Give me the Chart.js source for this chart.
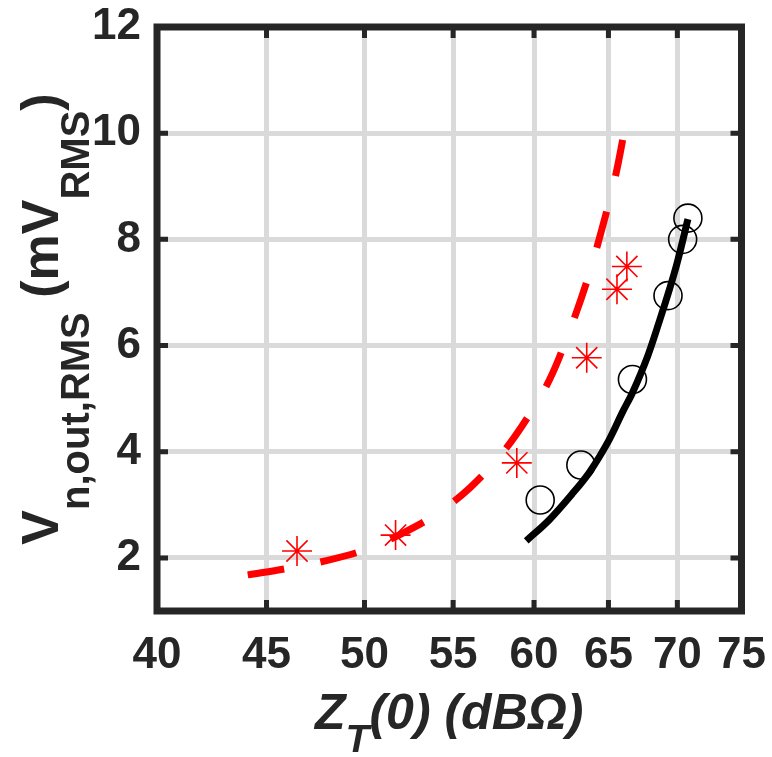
<!DOCTYPE html>
<html>
<head>
<meta charset="utf-8">
<script src="https://cdn.jsdelivr.net/npm/chart.js@4/dist/chart.umd.min.js"></script>
<style>
html,body{margin:0;padding:0;background:#fff;}
#wrap{width:772px;height:757px;position:relative;}
</style>
</head>
<body>
<div id="wrap"><canvas id="c" width="772" height="757"></canvas></div>
<script>
// ---- data ----
const xTicks = [40, 45, 50, 55, 60, 65, 70, 75];
const yTicks = [2, 4, 6, 8, 10, 12];

// red dashed fit curve
const dashX = [44.1, 46.0, 48.0, 50.0, 52.0, 54.0, 56.0, 58.0, 59.6, 61.0, 62.3, 63.5, 64.6, 65.5, 66.2];
const dashY = [1.68, 1.80, 1.95, 2.15, 2.45, 2.82, 3.32, 3.98, 4.65, 5.35, 6.25, 7.20, 8.25, 9.20, 10.15];

// red asterisk measurements
const starX = [46.5, 51.7, 58.9, 63.5, 65.6, 66.3];
const starY = [2.13, 2.43, 3.79, 5.77, 7.06, 7.49];

// black solid fit curve
const solidX = [59.5, 61.0, 62.5, 63.7, 65.0, 66.0, 66.7, 67.8, 68.7, 69.4, 70.0, 70.8];
const solidY = [2.32, 2.72, 3.20, 3.62, 4.20, 4.75, 5.11, 5.80, 6.49, 7.05, 7.57, 8.38];

// black circle measurements
const circX = [60.4, 63.1, 66.7, 69.3, 70.4, 70.8];
const circY = [3.09, 3.75, 5.36, 6.94, 8.00, 8.40];

const pts = (xs, ys) => xs.map((x, i) => ({x: x, y: ys[i]}));

const FONT = "'Liberation Sans', Arial, Helvetica, sans-serif";
const INK = '#262626';

const framePlugin = {
  id: 'frame',
  afterDraw(chart) {
    const ctx = chart.ctx;
    const a = chart.chartArea;
    const xs = chart.scales.x, ys = chart.scales.y;
    ctx.save();
    // inner ticks
    ctx.strokeStyle = INK;
    ctx.lineWidth = 5;
    ctx.lineCap = 'butt';
    const tl = 11;
    xTicks.forEach(v => {
      const px = xs.getPixelForValue(v);
      ctx.beginPath();
      ctx.moveTo(px, a.bottom); ctx.lineTo(px, a.bottom - tl);
      ctx.moveTo(px, a.top); ctx.lineTo(px, a.top + tl);
      ctx.stroke();
    });
    yTicks.forEach(v => {
      const py = ys.getPixelForValue(v);
      ctx.beginPath();
      ctx.moveTo(a.left, py); ctx.lineTo(a.left + tl, py);
      ctx.moveTo(a.right, py); ctx.lineTo(a.right - tl, py);
      ctx.stroke();
    });
    // box
    ctx.lineWidth = 7;
    ctx.lineJoin = 'miter';
    ctx.strokeRect(a.left, a.top, a.right - a.left, a.bottom - a.top);

    // ---- x title: Z_T(0) (dBΩ) ----
    ctx.fillStyle = INK;
    ctx.textBaseline = 'alphabetic';
    ctx.textAlign = 'left';
    const mainF = 'italic bold 50px ' + FONT;
    const subF = 'italic bold 39px ' + FONT;
    const xParts = [
      {t: 'Z', f: mainF, dy: 0},
      {t: 'T', f: subF, dy: 23},
      {t: '(0) (dB\u03A9)', f: mainF, dy: 0}
    ];
    let tw = 0;
    xParts.forEach(p => { ctx.font = p.f; p.w = ctx.measureText(p.t).width; tw += p.w; });
    let cx = (a.left + a.right) / 2 - tw / 2;
    const baseX = 729;
    xParts.forEach(p => { ctx.font = p.f; ctx.fillText(p.t, cx, baseX + p.dy); cx += p.w; });

    // ---- y title: V_{n,out,RMS} (mV_{RMS}) ----
    const yMain = 'bold 52px ' + FONT;
    const ySub = 'bold 40px ' + FONT;
    const yParts = [
      {t: 'V', f: yMain, dy: 0},
      {t: 'n,out,RMS', f: ySub, dy: 31},
      {t: ' (mV', f: yMain, dy: 0},
      {t: 'RMS', f: ySub, dy: 31},
      {t: ')', f: yMain, dy: 0}
    ];
    tw = 0;
    yParts.forEach(p => { ctx.font = p.f; p.w = ctx.measureText(p.t).width; tw += p.w; });
    ctx.translate(58, (a.top + a.bottom) / 2);
    ctx.rotate(-Math.PI / 2);
    cx = -tw / 2;
    yParts.forEach(p => { ctx.font = p.f; ctx.fillText(p.t, cx, p.dy); cx += p.w; });
    ctx.restore();
  }
};

const zeroPad = s => { s.paddingTop = 0; s.paddingBottom = 0; s.paddingLeft = 0; s.paddingRight = 0; };

new Chart(document.getElementById('c'), {
  type: 'scatter',
  data: {
    datasets: [
      {
        data: pts(dashX, dashY), showLine: true, borderColor: '#ff0000', borderWidth: 7,
        borderDash: [37, 37], borderCapStyle: 'butt', pointRadius: 0, tension: 0.35, order: 1
      },
      {
        data: pts(solidX, solidY), showLine: true, borderColor: '#000000', borderWidth: 7,
        borderCapStyle: 'butt', pointRadius: 0, tension: 0.35, order: 1
      },
      {
        data: pts(starX, starY), showLine: false, pointStyle: 'star', pointRadius: 15,
        borderColor: '#ff0000', backgroundColor: '#ff0000', pointBorderWidth: 1.6, order: 2
      },
      {
        data: pts(circX, circY), showLine: false, pointStyle: 'circle', pointRadius: 14,
        borderColor: '#000000', backgroundColor: 'rgba(0,0,0,0)', pointBorderWidth: 1.6, order: 2
      }
    ]
  },
  options: {
    responsive: false,
    animation: false,
    devicePixelRatio: 1,
    layout: {padding: {left: 0, top: 27, right: 30.5, bottom: 0}},
    plugins: {legend: {display: false}, tooltip: {enabled: false}},
    scales: {
      x: {
        type: 'logarithmic', min: 40, max: 75, position: 'bottom',
        afterBuildTicks: s => { s.ticks = xTicks.map(v => ({value: v})); },
        afterFit: s => { s.height = 146; zeroPad(s); },
        ticks: {
          autoSkip: false, maxRotation: 0, padding: 18, color: INK,
          font: {family: FONT, size: 44, weight: 'bold'},
          callback: v => String(v)
        },
        grid: {color: '#dadada', lineWidth: 5, drawTicks: false},
        border: {display: false}
      },
      y: {
        type: 'linear', min: 1, max: 12,
        afterBuildTicks: s => { s.ticks = yTicks.map(v => ({value: v})); },
        afterFit: s => { s.width = 157; zeroPad(s); },
        ticks: {
          autoSkip: false, padding: 16, color: INK,
          font: {family: FONT, size: 44, weight: 'bold'},
          callback: v => String(v)
        },
        grid: {color: '#dadada', lineWidth: 5, drawTicks: false},
        border: {display: false}
      }
    }
  },
  plugins: [framePlugin]
});
</script>
</body>
</html>
